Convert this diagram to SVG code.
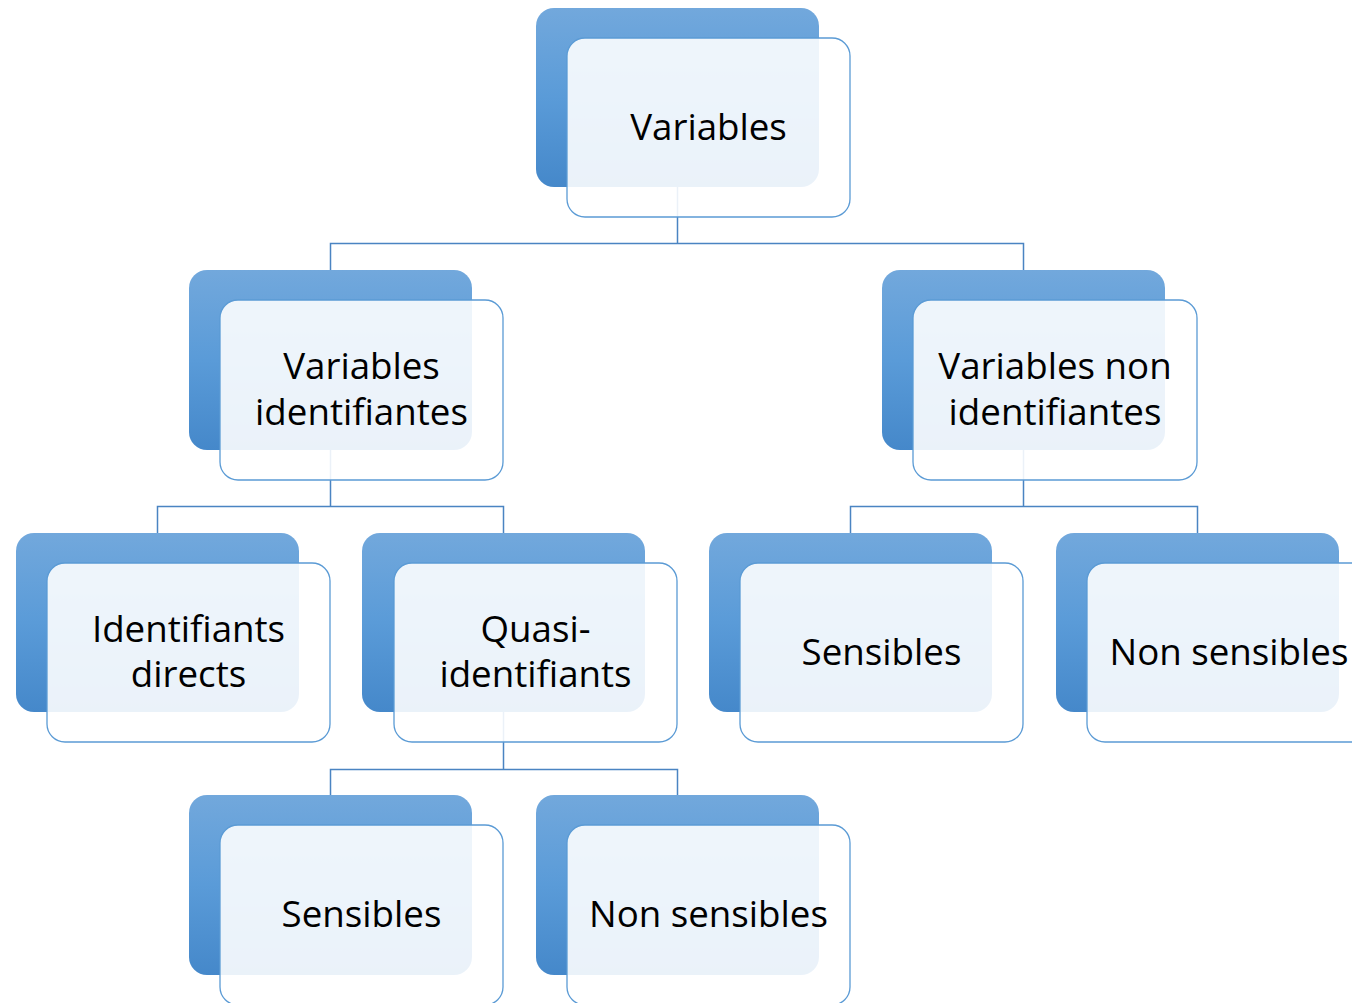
<svg xmlns="http://www.w3.org/2000/svg" width="1352" height="1003" viewBox="0 0 1352 1003">
  <defs>
    <linearGradient id="blueFill" x1="0" y1="0" x2="0" y2="1">
      <stop offset="0" stop-color="#72A8DC"/>
      <stop offset="0.5" stop-color="#5A9BD8"/>
      <stop offset="1" stop-color="#4588CA"/>
    </linearGradient>
    <style>
      .back { fill: url(#blueFill); }
      .front { fill: #FFFFFF; fill-opacity: 0.89; stroke: #5B9BD5; stroke-width: 1.3; }
      .label { font-family: "Open Sans", "Noto Sans", "Liberation Sans", sans-serif; font-size: 36.7px; fill: #000000; text-anchor: middle; }
      .conn { fill: none; stroke: #4A84C2; stroke-width: 1.5; }
    </style>
  </defs>

  <rect width="1352" height="1003" fill="#FFFFFF"/>

  <g id="connectors">
    <path class="conn" d="M677.5 187 V243.5 M330.5 270 V243.5 H1023.5 V270"/>
    <path class="conn" d="M330.5 450 V506.5 M157.5 533 V506.5 H503.5 V533"/>
    <path class="conn" d="M1023.5 450 V506.5 M850.5 533 V506.5 H1197.5 V533"/>
    <path class="conn" d="M503.5 712 V769.5 M330.5 795 V769.5 H677.5 V795"/>
  </g>

  <g id="node-variables">
    <rect class="back" x="536" y="8" width="283" height="179" rx="18"/>
    <rect class="front" x="567" y="38" width="283" height="179" rx="18"/>
    <text class="label" x="708.5" y="140">Variables</text>
  </g>

  <g id="node-identifiantes">
    <rect class="back" x="189" y="270" width="283" height="180" rx="18"/>
    <rect class="front" x="220" y="300" width="283" height="180" rx="18"/>
    <text class="label" x="361.5" y="379">Variables</text>
    <text class="label" x="361.5" y="425">identifiantes</text>
  </g>

  <g id="node-non-identifiantes">
    <rect class="back" x="882" y="270" width="283" height="180" rx="18"/>
    <rect class="front" x="913" y="300" width="284" height="180" rx="18"/>
    <text class="label" x="1055" y="379">Variables non</text>
    <text class="label" x="1055" y="425">identifiantes</text>
  </g>

  <g id="node-identifiants-directs">
    <rect class="back" x="16" y="533" width="283" height="179" rx="18"/>
    <rect class="front" x="47" y="563" width="283" height="179" rx="18"/>
    <text class="label" x="188.5" y="642">Identifiants</text>
    <text class="label" x="188.5" y="687">directs</text>
  </g>

  <g id="node-quasi-identifiants">
    <rect class="back" x="362" y="533" width="283" height="179" rx="18"/>
    <rect class="front" x="394" y="563" width="283" height="179" rx="18"/>
    <text class="label" x="535.5" y="642">Quasi-</text>
    <text class="label" x="535.5" y="687">identifiants</text>
  </g>

  <g id="node-sensibles-right">
    <rect class="back" x="709" y="533" width="283" height="179" rx="18"/>
    <rect class="front" x="740" y="563" width="283" height="179" rx="18"/>
    <text class="label" x="881.5" y="665">Sensibles</text>
  </g>

  <g id="node-non-sensibles-right">
    <rect class="back" x="1056" y="533" width="283" height="179" rx="18"/>
    <rect class="front" x="1087" y="563" width="283" height="179" rx="18"/>
    <text class="label" x="1229" y="665">Non sensibles</text>
  </g>

  <g id="node-sensibles-quasi">
    <rect class="back" x="189" y="795" width="283" height="180" rx="18"/>
    <rect class="front" x="220" y="825" width="283" height="180" rx="18"/>
    <text class="label" x="361.5" y="927">Sensibles</text>
  </g>

  <g id="node-non-sensibles-quasi">
    <rect class="back" x="536" y="795" width="283" height="180" rx="18"/>
    <rect class="front" x="567" y="825" width="283" height="180" rx="18"/>
    <text class="label" x="708.5" y="927">Non sensibles</text>
  </g>
</svg>
